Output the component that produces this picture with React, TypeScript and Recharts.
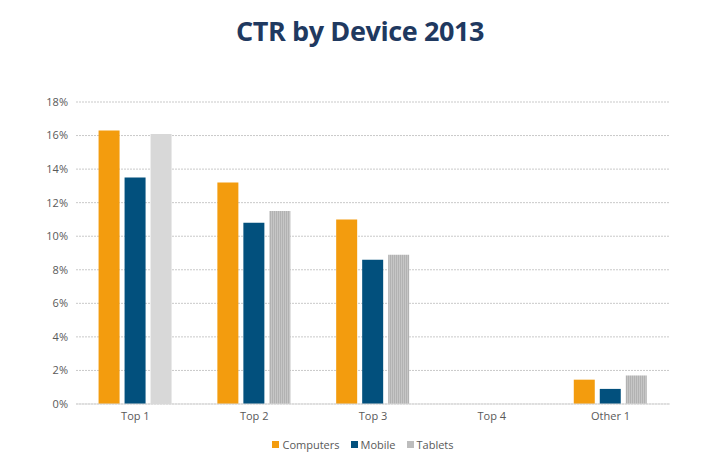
import React from 'react';
import { Bar, BarChart, CartesianGrid, Cell, Legend, XAxis, YAxis } from 'recharts';

const categories = ['Top 1', 'Top 2', 'Top 3', 'Top 4', 'Other 1'];
const computers = [16.3, 13.2, 11.0, 0, 1.45];
const mobile = [13.5, 10.8, 8.6, 0, 0.9];
const tablets = [16.1, 11.5, 8.9, 0, 1.7];
const yTicks = [0, 2, 4, 6, 8, 10, 12, 14, 16, 18];

const data = categories.map((name, i) => ({
  name,
  Computers: computers[i],
  Mobile: mobile[i],
  Tablets: tablets[i],
}));

const ORANGE = '#f39c0e';
const BLUE = '#02507d';
const GRAY = '#bdbdbd';
const LIGHT_GRAY = '#d8d8d8';
const FONT = '"Open Sans", sans-serif';

const legendItems = [
  { label: 'Computers', color: ORANGE },
  { label: 'Mobile', color: BLUE },
  { label: 'Tablets', color: GRAY },
];

function LegendContent() {
  return (
    <div style={{ display: 'flex', justifyContent: 'center', gap: 11, fontFamily: FONT, fontSize: 11, color: '#595959', paddingLeft: 6 }}>
      {legendItems.map((it) => (
        <span key={it.label} style={{ display: 'flex', alignItems: 'center', gap: 3 }}>
          <span style={{ width: 7, height: 7, background: it.color, display: 'inline-block' }} />
          {it.label}
        </span>
      ))}
    </div>
  );
}

export default function App() {
  return (
    <div style={{ position: 'absolute', left: 0, top: 0, width: 720, height: 460, background: '#fff' }}>
      <div
        style={{
          position: 'absolute',
          top: 12,
          width: 720,
          textAlign: 'center',
          fontFamily: FONT,
          fontWeight: 700,
          fontSize: 27,
          color: '#1f3960',
          letterSpacing: -0.4,
        }}
      >
        CTR by Device 2013
      </div>
      <BarChart
        width={720}
        height={460}
        data={data}
        margin={{ top: 102, right: 50, left: 36, bottom: 0 }}
        barCategoryGap="19%"
        barGap={5}
      >
        <defs>
          <pattern id="tabletStripes" width="2" height="2" patternUnits="userSpaceOnUse">
            <rect width="2" height="2" fill="#c6c6c6" />
            <rect width="1" height="2" fill="#b2b2b2" />
          </pattern>
        </defs>
        <CartesianGrid vertical={false} stroke="#c9c9c9" strokeDasharray="2 1" />
        <XAxis
          dataKey="name"
          tickLine={false}
          axisLine={{ stroke: '#d9d9d9' }}
          tick={{ fill: '#595959', fontSize: 11, fontFamily: FONT }}
          height={26}
        />
        <YAxis
          ticks={yTicks}
          domain={[0, 18]}
          tickFormatter={(v) => `${v}%`}
          tickLine={false}
          axisLine={false}
          width={40}
          tick={{ fill: '#595959', fontSize: 11, fontFamily: FONT }}
        />
        <Legend
          verticalAlign="bottom"
          height={30}
          content={<LegendContent />}
          wrapperStyle={{ top: 437, left: 0, width: 720 }}
        />
        <Bar dataKey="Computers" fill={ORANGE} isAnimationActive={false} />
        <Bar dataKey="Mobile" fill={BLUE} isAnimationActive={false} />
        <Bar dataKey="Tablets" fill={GRAY} isAnimationActive={false}>
          {data.map((d, i) => (
            <Cell key={d.name} fill={i === 0 ? LIGHT_GRAY : 'url(#tabletStripes)'} />
          ))}
        </Bar>
      </BarChart>
    </div>
  );
}
